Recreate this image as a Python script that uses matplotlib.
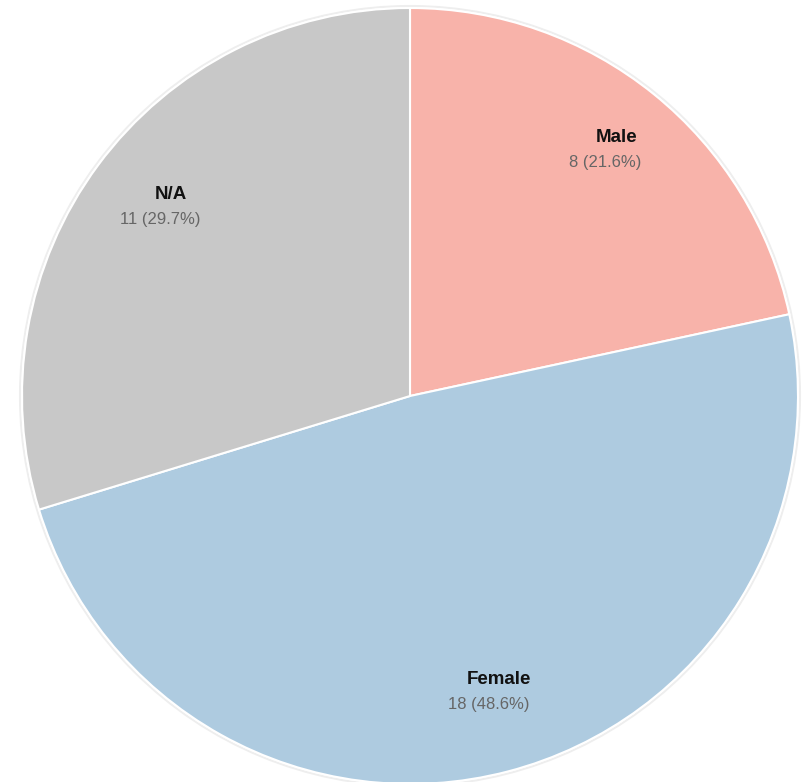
import numpy as np
import matplotlib
matplotlib.use("Agg")
import matplotlib.pyplot as plt

categories = ["Male", "Female", "N/A"]
counts = [8, 18, 11]
colors = ["#F8B3AA", "#AECBE0", "#C8C8C8"]

W, H = 809, 782
fig = plt.figure(figsize=(W / 100, H / 100), dpi=100)
ax = fig.add_axes([0, 0, 1, 1])
cx, cy, R = 410, H - 396, 388

total = sum(counts)
wedges, _ = ax.pie(counts, colors=colors, startangle=90, counterclock=False,
                   center=(cx, cy), radius=R,
                   wedgeprops=dict(edgecolor="white", linewidth=1.5))
# faint outer rim
ax.add_patch(plt.Circle((cx, cy), R + 2, fill=False, edgecolor="#EEEEEE", linewidth=1.5, zorder=0))

for w, cat, n in zip(wedges, categories, counts):
    mid = np.deg2rad((w.theta1 + w.theta2) / 2)
    x = cx + 0.8015 * R * np.cos(mid)
    y = cy + 0.8015 * R * np.sin(mid) - 8
    ax.text(x + 11, y + 25, cat, ha="center", va="center", fontsize=13.5, fontweight="bold",
            color="#111111", family="Liberation Sans")
    ax.text(x, y, f"{n} ({n / total * 100:.1f}%)", ha="center", va="center",
            fontsize=12, color="#666666", family="Liberation Sans")

ax.set_xlim(0, W)
ax.set_ylim(0, H)
ax.set_aspect("equal")
ax.axis("off")
fig.savefig("out.png", dpi=100, facecolor="white")
